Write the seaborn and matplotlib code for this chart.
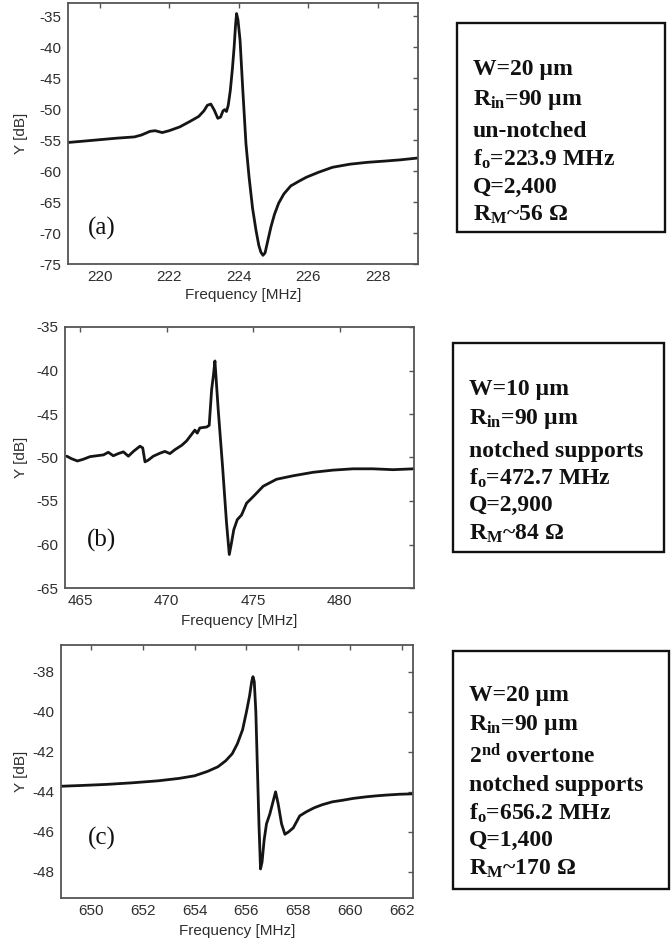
import matplotlib
matplotlib.use("Agg")
import matplotlib.pyplot as plt
import seaborn as sns
from matplotlib.patches import Rectangle

# ---- measured admittance traces ----
freq_a = [219.09, 219.5, 220.0, 220.5, 221.0, 221.2, 221.45, 221.6, 221.8, 222.0, 222.3,
          222.6, 222.85, 223.0, 223.1, 223.2, 223.3, 223.4, 223.48, 223.55, 223.6, 223.65,
          223.7, 223.76, 223.82, 223.87, 223.91, 223.94, 223.98, 224.04, 224.12, 224.21,
          224.3, 224.4, 224.5, 224.58, 224.64, 224.7, 224.76, 224.84, 224.93, 225.03,
          225.15, 225.3, 225.5, 225.75, 225.95, 226.3, 226.7, 227.2, 227.7, 228.2, 228.65,
          229.16]
y_a = [-55.4, -55.2, -54.95, -54.7, -54.5, -54.2, -53.6, -53.5, -53.8, -53.5, -52.9,
       -52.0, -51.2, -50.3, -49.4, -49.2, -50.2, -51.5, -51.3, -50.3, -50.1, -50.4,
       -49.4, -47.0, -43.5, -40.0, -36.5, -34.6, -35.6, -38.9, -47.0, -55.6,
       -61.0, -66.0, -69.6, -72.0, -73.1, -73.6, -73.2, -71.2, -69.0, -67.0,
       -65.2, -63.7, -62.4, -61.6, -61.0, -60.2, -59.4, -58.9, -58.6, -58.4, -58.2,
       -57.9]

freq_b = [464.23, 464.52, 464.85, 465.19, 465.58, 465.96, 466.35, 466.63, 466.92, 467.21,
          467.5, 467.79, 468.08, 468.46, 468.62, 468.75, 468.94, 469.23, 469.62, 469.9,
          470.19, 470.48, 470.87, 471.15, 471.44, 471.63, 471.77, 471.92, 472.31, 472.46,
          472.6, 472.71, 472.79, 472.85, 472.98, 473.23, 473.46, 473.62, 473.73, 473.88,
          474.08, 474.33, 474.62, 475.0, 475.58, 476.35, 477.31, 478.46, 479.62, 480.77,
          481.92, 483.08, 484.29]
y_b = [-49.85, -50.15, -50.4, -50.2, -49.9, -49.8, -49.7, -49.4, -49.8, -49.55,
       -49.35, -49.85, -49.3, -48.7, -48.9, -50.5, -50.3, -49.85, -49.5, -49.3,
       -49.55, -49.1, -48.6, -48.1, -47.35, -46.85, -47.2, -46.6, -46.5, -46.3,
       -42.2, -40.45, -38.9, -40.65, -44.5, -51.0, -57.5, -61.15, -60.0, -58.3,
       -57.15, -56.6, -55.25, -54.5, -53.3, -52.5, -52.1, -51.7, -51.45, -51.3,
       -51.3, -51.4, -51.3]

freq_c = [648.88, 649.7, 650.6, 651.6, 652.6, 653.4, 654.0, 654.5, 654.9, 655.2,
          655.45, 655.65, 655.85, 656.0, 656.12, 656.2, 656.25, 656.3, 656.36, 656.42,
          656.48, 656.54, 656.6, 656.68, 656.77, 656.9, 657.02, 657.12, 657.22, 657.35,
          657.48, 657.62, 657.8, 658.05, 658.3, 658.6, 658.9, 659.3, 659.7, 660.1,
          660.6, 661.0, 661.4, 661.9, 662.41]
y_c = [-43.72, -43.68, -43.63, -43.55, -43.45, -43.33, -43.2, -42.98, -42.75, -42.45,
       -42.1, -41.6, -40.9, -40.0, -39.2, -38.5, -38.25, -38.5, -40.0, -42.8,
       -45.6, -47.85, -47.5, -46.4, -45.6, -45.1, -44.5, -44.0, -44.6, -45.6,
       -46.12, -46.0, -45.8, -45.2, -45.0, -44.8, -44.65, -44.5, -44.42, -44.33,
       -44.25, -44.2, -44.16, -44.12, -44.1]

panel_tags = ["(a)", "(b)", "(c)"]

info_a = ["W=20 µm", r"R$_{\rm in}$=90 µm", "un-notched", r"f$_{\rm o}$=223.9 MHz",
          "Q=2,400", r"R$_{\rm M}$~56 Ω"]
info_b = ["W=10 µm", r"R$_{\rm in}$=90 µm", "notched supports", r"f$_{\rm o}$=472.7 MHz",
          "Q=2,900", r"R$_{\rm M}$~84 Ω"]
info_c = ["W=20 µm", r"R$_{\rm in}$=90 µm", r"2$^{\rm nd}$ overtone", "notched supports",
          r"f$_{\rm o}$=656.2 MHz", "Q=1,400", r"R$_{\rm M}$~170 Ω"]

sns.set_theme(style="white")
plt.rcParams["font.family"] = ["Liberation Sans", "DejaVu Sans"]
plt.rcParams["axes.unicode_minus"] = False
plt.rcParams["mathtext.fontset"] = "custom"
plt.rcParams["mathtext.rm"] = "Liberation Serif:bold"
plt.rcParams["mathtext.bf"] = "Liberation Serif:bold"
plt.rcParams["mathtext.it"] = "Liberation Serif:bold"

W, H = 671, 940
fig = plt.figure(figsize=(W / 100, H / 100), dpi=100)
fig.patch.set_facecolor("white")


def px_axes(left, top, right, bottom):
    return fig.add_axes([left / W, 1 - bottom / H, (right - left) / W, (bottom - top) / H])


panels = [
    dict(box=(68, 3, 418, 264), x=freq_a, y=y_a, xlim=(219.09, 229.16), ylim=(-75, -32.9),
         xt=range(220, 229, 2), yt=range(-75, -34, 5), ylab_x=28, xlab_y=288, tag_y=228),
    dict(box=(65, 327, 414, 588), x=freq_b, y=y_b, xlim=(464.13, 484.29), ylim=(-65, -35),
         xt=range(465, 481, 5), yt=range(-65, -34, 5), ylab_x=28, xlab_y=614, tag_y=540),
    dict(box=(61, 645, 413, 898), x=freq_c, y=y_c, xlim=(648.86, 662.41), ylim=(-49.3, -36.67),
         xt=range(650, 663, 2), yt=range(-48, -37, 2), ylab_x=28, xlab_y=924, tag_y=838),
]

text_col = "#2e2e2e"
for p, tag in zip(panels, panel_tags):
    l, t, r, b = p["box"]
    ax = px_axes(l, t, r, b)
    sns.lineplot(x=p["x"], y=p["y"], ax=ax, color="#151515", linewidth=2.0,
                 sort=False, estimator=None)
    ax.set_xlim(*p["xlim"])
    ax.set_ylim(*p["ylim"])
    ax.set_xticks(list(p["xt"]))
    ax.set_yticks(list(p["yt"]))
    for sp in ax.spines.values():
        sp.set_color("#555555")
        sp.set_linewidth(1.3)
    ax.tick_params(direction="in", top=True, right=True, length=3.5, width=1,
                   color="#555555", labelsize=11, labelcolor=text_col, pad=4.5)
    ax.set_xlabel("Frequency [MHz]", fontsize=11, color=text_col)
    ax.set_ylabel("Y [dB]", fontsize=11, color=text_col)
    ax.yaxis.set_label_coords((p["ylab_x"] - l) / (r - l), 0.5)
    ax.xaxis.set_label_coords(0.5, -(p["xlab_y"] - b) / (b - t))
    ax.text((102 - l) / (r - l), 1 - (p["tag_y"] - t) / (b - t), tag,
            transform=ax.transAxes, ha="center", va="center",
            family="Liberation Serif", fontsize=18, color="#111111")

# ---- parameter boxes ----
boxes = [
    dict(rect=(457, 23, 665, 232), tx=473, lines=info_a, base=[75, 105, 137, 166, 193, 221]),
    dict(rect=(453, 343, 664, 552), tx=469, lines=info_b, base=[395, 424, 457, 485, 511, 540]),
    dict(rect=(453, 651, 669, 889), tx=469, lines=info_c,
         base=[701, 730, 763, 791, 820, 846, 875]),
]
for bx in boxes:
    x0, y0, x1, y1 = bx["rect"]
    fig.add_artist(Rectangle((x0 / W, 1 - y1 / H), (x1 - x0) / W, (y1 - y0) / H,
                             transform=fig.transFigure, fill=False, lw=1.7,
                             edgecolor="#111111"))
    for s, yb in zip(bx["lines"], bx["base"]):
        fig.text(bx["tx"] / W, 1 - yb / H, s, family="Liberation Serif",
                 fontweight="bold", fontsize=17, va="baseline", ha="left",
                 color="#111111")

fig.savefig("out.png", dpi=100, facecolor="white")
